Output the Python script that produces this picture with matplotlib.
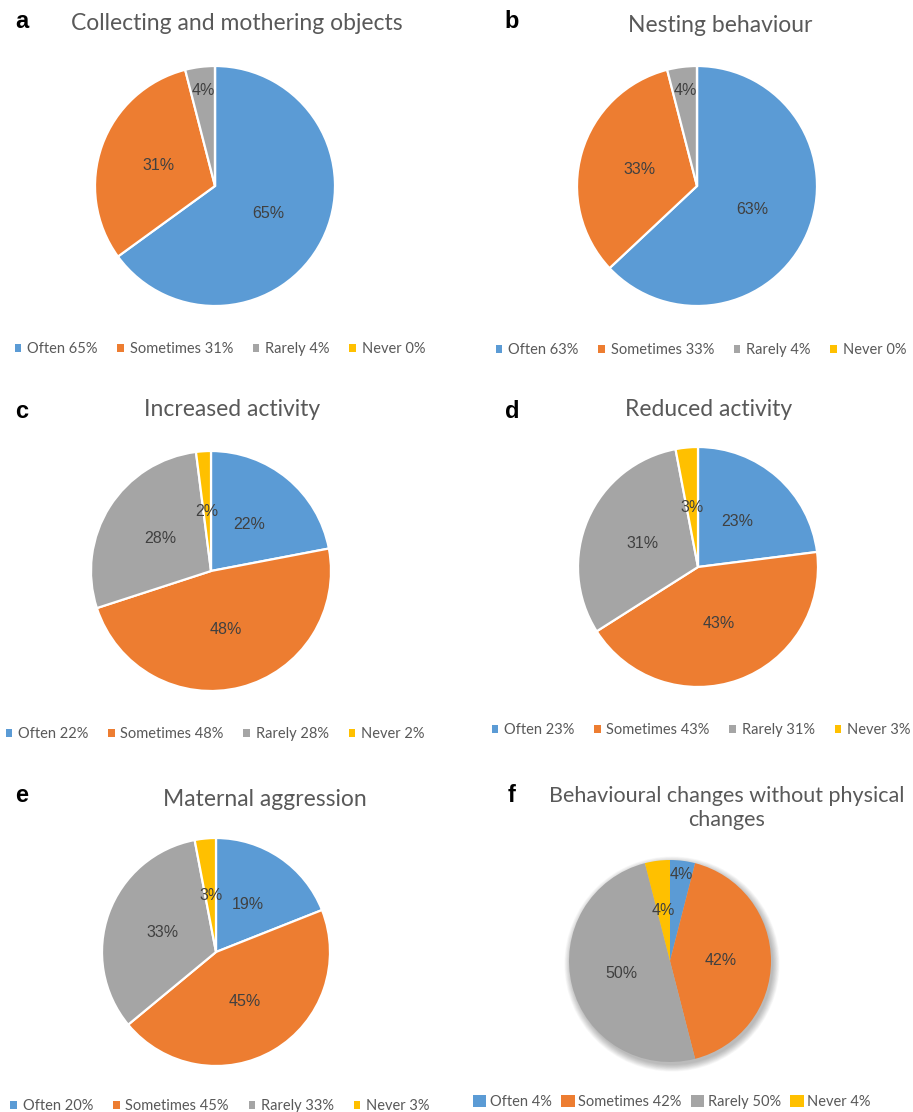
import matplotlib
matplotlib.use("Agg")
import matplotlib.pyplot as plt
from matplotlib.patches import Patch, Circle
import numpy as np

W, H = 913, 1112
DPI = 100

categories = ["Often", "Sometimes", "Rarely", "Never"]
colors = ["#5B9BD5", "#ED7D31", "#A5A5A5", "#FFC000"]

panel_letters = ["a", "b", "c", "d", "e", "f"]
titles = [
    "Collecting and mothering objects",
    "Nesting behaviour",
    "Increased activity",
    "Reduced activity",
    "Maternal aggression",
    "Behavioural changes without physical\nchanges",
]

# slice values (percent) per panel
values_a = [65, 31, 4, 0]
values_b = [63, 33, 4, 0]
values_c = [22, 48, 28, 2]
values_d = [23, 43, 31, 3]
values_e = [19, 45, 33, 3]
values_f = [4, 42, 50, 4]

# percentages shown in the legends
legend_pct_a = [65, 31, 4, 0]
legend_pct_b = [63, 33, 4, 0]
legend_pct_c = [22, 48, 28, 2]
legend_pct_d = [23, 43, 31, 3]
legend_pct_e = [20, 45, 33, 3]
legend_pct_f = [4, 42, 50, 4]

all_values = [values_a, values_b, values_c, values_d, values_e, values_f]
all_legend = [legend_pct_a, legend_pct_b, legend_pct_c, legend_pct_d,
              legend_pct_e, legend_pct_f]

# layout in pixels: pie centre, radius, title position, legend centre, letter position
pie_geom = [(215, 186, 120), (697, 186, 120), (211, 571, 120),
            (698, 567, 120), (216, 952, 114), (670, 961, 101)]
title_pos = [(237, 23), (720, 26), (232, 410), (709, 409), (265, 799), (727, 808)]
title_size = [16.5, 16.5, 16.5, 16.5, 16.5, 15.5]
legend_pos = [(220, 349), (701, 350), (215, 734), (701, 730), (220, 1106), (672, 1102)]
letter_pos = [(22, 22), (512, 22), (22, 411), (512, 411), (22, 795), (512, 795)]
label_dist = [[0.5, 0.5, 0.8, 0.5], [0.5, 0.5, 0.8, 0.5], [0.5] * 4,
              [0.5] * 4, [0.5] * 4, [0.86, 0.5, 0.5, 0.5]]

TITLE_FONT = "Lato"
TEXT_COLOR = "#595959"
LABEL_COLOR = "#404040"

fig = plt.figure(figsize=(W / DPI, H / DPI), dpi=DPI)
fig.patch.set_facecolor("white")


def fx(x):
    return x / W


def fy(y):
    return 1 - y / H


for i in range(6):
    cx, cy, r = pie_geom[i]
    pad = r * 1.15
    ax = fig.add_axes([fx(cx - pad), fy(cy + pad), 2 * pad / W, 2 * pad / H])
    ax.axis("off")

    is_f = (i == 5)
    if is_f:
        # soft drop shadow beneath the pie
        for k in range(12):
            rr = 1.0 + 0.006 * k
            ax.add_patch(Circle((0.02, -0.03), rr, color="black",
                                alpha=0.025, lw=0, zorder=0))
    wedges, _ = ax.pie(
        all_values[i], colors=colors, startangle=90, counterclock=False,
        radius=1.0,
        wedgeprops=dict(edgecolor="none" if is_f else "white",
                        linewidth=0 if is_f else 1.6),
    )
    ax.set_xlim(-pad / r, pad / r)
    ax.set_ylim(-pad / r, pad / r)
    ax.set_aspect("equal")
    for w in wedges:
        w.set_zorder(2)

    for j, w in enumerate(wedges):
        v = all_values[i][j]
        if v == 0:
            continue
        ang = np.deg2rad((w.theta1 + w.theta2) / 2)
        d = label_dist[i][j]
        ax.text(d * np.cos(ang), d * np.sin(ang), f"{v}%",
                ha="center", va="center", fontsize=11.5,
                family="Liberation Sans", color=LABEL_COLOR, zorder=5)

    tx, ty = title_pos[i]
    fig.text(fx(tx), fy(ty), titles[i], ha="center", va="center",
             fontsize=title_size[i], family=TITLE_FONT, color=TEXT_COLOR,
             linespacing=1.3)
    lx, ly = letter_pos[i]
    fig.text(fx(lx), fy(ly), panel_letters[i], ha="center", va="center",
             fontsize=17, fontweight="bold", family="Liberation Sans",
             color="black")

    handles = [Patch(facecolor=c, edgecolor="none") for c in colors]
    labels = [f"{cat} {p}%" for cat, p in zip(categories, all_legend[i])]
    gx, gy = legend_pos[i]
    hsize = 0.9 if is_f else 0.45
    fig.legend(handles, labels, loc="center",
               bbox_to_anchor=(fx(gx), fy(gy)), ncol=4, frameon=False,
               handlelength=hsize, handleheight=hsize,
               handletextpad=0.4 if not is_f else 0.25,
               columnspacing=1.35 if not is_f else 0.65,
               prop=dict(family=TITLE_FONT, size=10.5),
               labelcolor=TEXT_COLOR)

fig.savefig("out.png", dpi=DPI)
